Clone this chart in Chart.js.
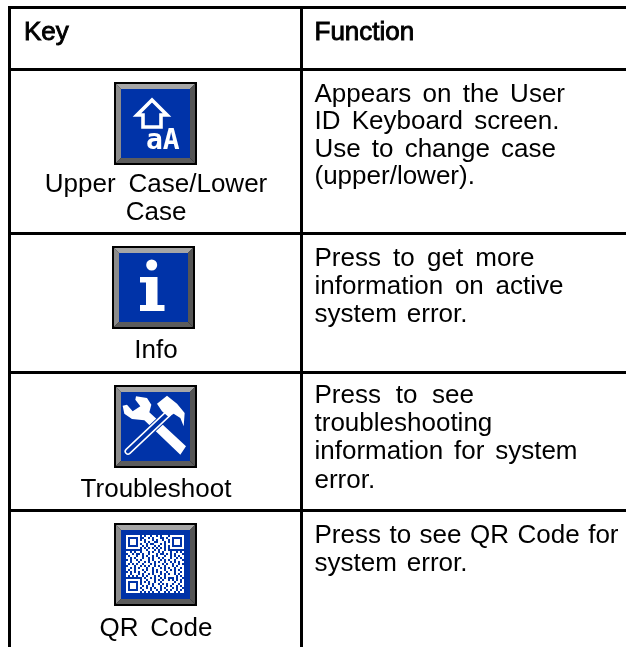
<!DOCTYPE html>
<html lang="en">
<head>
<meta charset="UTF-8" />
<title>Key / Function table</title>
<script src="https://cdn.jsdelivr.net/npm/chart.js"></script>
<style>
  html, body { margin: 0; padding: 0; background: #fff; overflow: hidden; }
  canvas { display: block; }
</style>
</head>
<body>
<canvas id="keyChart" width="626" height="647"></canvas>

<script>
  // table text
  const headers = ['Key', 'Function'];
  const keyNames = [['Upper Case/Lower', 'Case'], ['Info'], ['Troubleshoot'], ['QR Code']];
  const functionLines = [
    ['Appears on the User', 'ID Keyboard screen.', 'Use to change case', '(upper/lower).'],
    ['Press to get more', 'information on active', 'system error.'],
    ['Press to see', 'troubleshooting', 'information for system', 'error.'],
    ['Press to see QR Code for', 'system error.']
  ];

  // grid, in picture units
  const columnEdges = [9.5, 301.5];
  const rowEdges = [7.5, 69.5, 233.5, 372.5, 510.5];
  const tableRight = 626;
  const tableBottom = 647;

  // icon centres
  const iconX = [155.5, 153.5, 155.5, 155.5];
  const iconY = [123.5, 287.5, 426.5, 564.5];

  // text layout
  const headerBaseline = 39.5;
  const keyBaselines = [[192, 219.5], [358], [497], [636]];
  const functionBaselines = [[101.5, 129, 156.5, 184], [265.5, 293.5, 321.5], [403, 431, 459, 488], [543, 571]];
  // widths the justified lines were set to
  const keyWidths = [[222.5, 0], [0], [0], [113]];
  const functionWidths = [[250.5, 245, 241.5, 0], [220, 249, 153], [159.5, 0, 263, 0], [304, 153]];

  const qrModules = [
    '#######.#.##.##.#.###.#######',
    '#.....#..##.#.###..#.##.....#',
    '#.###.#.#.###.#.##.##.#.###.#',
    '#.###.###.#.##..###.#.#.###.#',
    '#.###.#.##.#..###.#.###.###.#',
    '#.....##.#.###.#.##.#.#.....#',
    '#######.#.#.#.#.#.#.#.#######',
    '........##.###.#.##.#........',
    '##.#.##.###.#.##.#.###.##.#.#',
    '.##.#..#.##.###.#..#.#.#.###.',
    '#.###.##.#.##.#.###.##.#.#.##',
    '##.#.###.##.#.##.#.###.##.#.#',
    '.#.##.#.###.#.###.#.#.##.###.',
    '##.###.##.#.##.#.##.##.#.#.##',
    '#.#.#.##.###.#.###.#.##.##.#.',
    '.###.##.#.#.##.#.##.###.#.###',
    '##.#.#.###.##.###.#.#.##.##.#',
    '#.##.###.#.##.#.###.##.#.#.##',
    '.#.#.#.##.###.#.#.##.###.##.#',
    '##.###.#.##.#.###.#.#.##.#.##',
    '#.#.#.##.#.###.#.##.#####.#.#',
    '........#.##.#.##.#.#...#.##.',
    '#######.##.###.#.#.##.#.#.#.#',
    '#.....#.#.#.##.##.######.##.#',
    '#.###.#.###.#.##.#.#.##.##.##',
    '#.###.##.#.##.###.##.#.##.#.#',
    '#.###.#.##.#.#.##.#.###.#.##.',
    '#.....##.###.##.#.##.#.##.#.#',
    '#######.#.#.#.##.##.#.##.#.##'
  ];

  const white = '#fff';
  const blue = '#0033a8';
  const iconSize = 83;

  function iconBase() {
    const c = document.createElement('canvas');
    c.width = iconSize;
    c.height = iconSize;
    const g = c.getContext('2d');
    const s = iconSize;
    g.fillStyle = '#000';
    g.fillRect(0, 0, s, s);
    // bevel
    const bevel = (color, pts) => {
      g.fillStyle = color;
      g.beginPath();
      pts.forEach((p, i) => i ? g.lineTo(p[0], p[1]) : g.moveTo(p[0], p[1]));
      g.closePath();
      g.fill();
    };
    bevel('#8c8c8c', [[2, 2], [7, 7], [7, s - 7], [2, s - 2]]);
    bevel('#a6a6a6', [[2, 2], [s - 2, 2], [s - 7, 7], [7, 7]]);
    bevel('#555', [[s - 2, 2], [s - 2, s - 2], [s - 7, s - 7], [s - 7, 7]]);
    bevel('#5c5c5c', [[2, s - 2], [s - 2, s - 2], [s - 7, s - 7], [7, s - 7]]);
    g.fillStyle = blue;
    g.fillRect(7, 7, s - 14, s - 14);
    g.fillStyle = white;
    g.strokeStyle = white;
    // the artwork is a little soft in the source
    g.filter = 'blur(0.4px)';
    return { c, g };
  }

  function poly(g, pts) {
    g.beginPath();
    pts.forEach((p, i) => i ? g.lineTo(p[0], p[1]) : g.moveTo(p[0], p[1]));
    g.closePath();
  }

  function caseIcon() {
    const { c, g } = iconBase();
    g.lineWidth = 3.6;
    g.lineJoin = 'miter';
    poly(g, [[38, 18], [53, 33], [47, 33], [47, 45], [29, 45], [29, 33], [23, 33]]);
    g.stroke();
    g.font = 'bold 28px "DejaVu Sans Mono"';
    g.textBaseline = 'alphabetic';
    g.fillText('aA', 32, 66.5);
    return c;
  }

  function infoIcon() {
    const { c, g } = iconBase();
    g.beginPath();
    g.arc(39.7, 19, 5.5, 0, Math.PI * 2);
    g.fill();
    poly(g, [[28, 31], [45.5, 31], [45.5, 59], [52.5, 59], [52.5, 65], [28, 65], [28, 59], [34, 59], [34, 36.5], [28, 36.5]]);
    g.fill();
    return c;
  }

  function toolsIcon() {
    const { c, g } = iconBase();
    const z = pts => pts.map(p => [p[0] / 3 - 2, p[1] / 3 - 2]);
    // wrench
    poly(g, z([[72, 40], [105, 45], [118, 65], [112, 88], [222, 190], [205, 215], [97, 112], [60, 108], [37, 92], [32, 68], [45, 65], [62, 85], [85, 70], [70, 50]]));
    g.fill();
    // hammer handle, cut through the wrench
    const handle = z([[168, 92], [48, 205]]);
    g.lineCap = 'round';
    [[9, blue], [7, white], [4, blue]].forEach(h => {
      g.lineWidth = h[0];
      g.strokeStyle = h[1];
      g.beginPath();
      g.moveTo(handle[0][0], handle[0][1]);
      g.lineTo(handle[1][0], handle[1][1]);
      g.stroke();
    });
    // hammer head
    g.fillStyle = white;
    poly(g, z([[135, 62], [165, 38], [195, 62], [218, 90], [215, 130], [205, 105], [185, 92], [170, 102], [150, 85]]));
    g.fill();
    return c;
  }

  function qrIcon() {
    const { c, g } = iconBase();
    const left = 12, top = 12, cell = 2;
    qrModules.forEach((row, y) => {
      for (let x = 0; x < 29; x++) {
        if (row[x] === '#') g.fillRect(left + x * cell, top + y * cell, cell, cell);
      }
    });
    return c;
  }

  const icons = [caseIcon(), infoIcon(), toolsIcon(), qrIcon()];

  function gridLine(x0, y0, x1, y1) {
    return {
      type: 'scatter',
      showLine: true,
      data: [{ x: x0, y: y0 }, { x: x1, y: y1 }],
      borderColor: '#000',
      borderWidth: 3,
      borderCapStyle: 'butt',
      pointRadius: 0
    };
  }

  const gridLines = [
    ...rowEdges.map(y => gridLine(columnEdges[0] - 1.5, y, tableRight, y)),
    ...columnEdges.map(x => gridLine(x, rowEdges[0], x, tableBottom))
  ];

  const iconPoints = {
    type: 'scatter',
    data: iconX.map((x, i) => ({ x: x, y: iconY[i] })),
    pointStyle: icons,
    pointRadius: 20,
    showLine: false
  };

  // table text goes through the same scales as the grid
  const tableText = {
    id: 'tableText',
    afterDatasetsDraw(chart) {
      const ctx = chart.ctx;
      const sx = chart.scales.x;
      const sy = chart.scales.y;
      const font = '26px "Liberation Sans", Arial, sans-serif';

      const put = (text, x, y, align, width, heavy) => {
        ctx.save();
        ctx.font = font;
        ctx.fillStyle = '#000';
        ctx.textAlign = align;
        ctx.textBaseline = 'alphabetic';
        const gaps = text.split(' ').length - 1;
        if (width && gaps) {
          ctx.wordSpacing = ((width - ctx.measureText(text).width) / gaps) + 'px';
        }
        ctx.fillText(text, sx.getPixelForValue(x), sy.getPixelForValue(y));
        if (heavy) {
          ctx.strokeStyle = '#000';
          ctx.lineWidth = 0.9;
          ctx.strokeText(text, sx.getPixelForValue(x), sy.getPixelForValue(y));
        }
        ctx.restore();
      };

      put(headers[0], 24, headerBaseline, 'left', 0, true);
      put(headers[1], 314.5, headerBaseline, 'left', 0, true);
      keyNames.forEach((lines, r) => lines.forEach((t, i) => {
        put(t, 156, keyBaselines[r][i], 'center', keyWidths[r][i]);
      }));
      functionLines.forEach((lines, r) => lines.forEach((t, i) => {
        put(t, 314.5, functionBaselines[r][i], 'left', functionWidths[r][i]);
      }));
    }
  };

  new Chart(document.getElementById('keyChart').getContext('2d'), {
    type: 'scatter',
    data: { datasets: [...gridLines, iconPoints] },
    plugins: [tableText],
    options: {
      responsive: false,
      animation: false,
      events: [],
      layout: { padding: 0, autoPadding: false },
      plugins: { legend: { display: false }, tooltip: { enabled: false } },
      scales: {
        x: { type: 'linear', display: false, min: 0, max: 626 },
        y: { type: 'linear', display: false, min: 0, max: 647, reverse: true }
      }
    }
  });
</script>
</body>
</html>
